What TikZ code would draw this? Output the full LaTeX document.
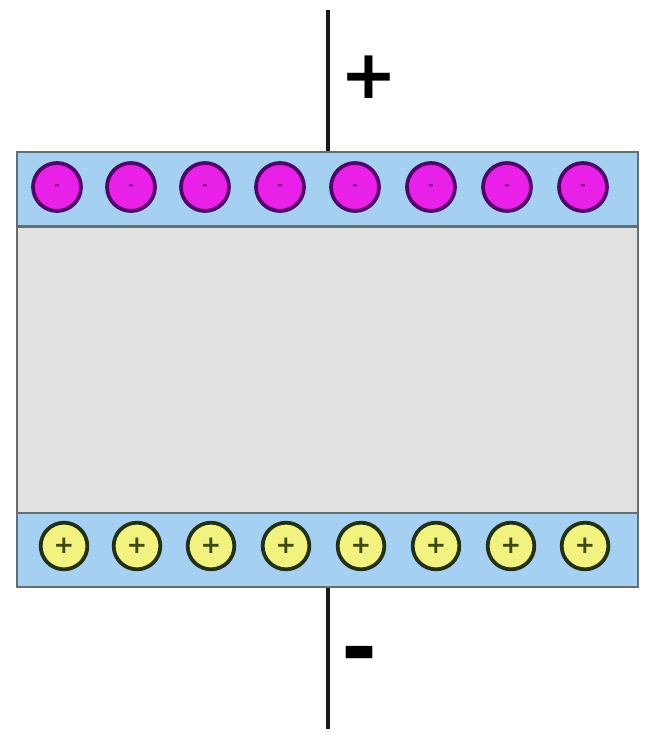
\documentclass[tikz,border=0pt]{standalone}
\usepackage{fontspec}
\newfontfamily\signfont{DejaVu Sans}
\usetikzlibrary{positioning}

\definecolor{plateblue}{RGB}{166,208,242}
\definecolor{gapgray}{RGB}{226,226,226}
\definecolor{framegray}{RGB}{100,112,112}
\definecolor{elecfill}{RGB}{232,32,232}
\definecolor{elecline}{RGB}{80,6,104}
\definecolor{holefill}{RGB}{242,242,128}
\definecolor{holeline}{RGB}{34,48,22}

\begin{document}
\begin{tikzpicture}[
    x=0.03cm, y=-0.03cm,
    plate/.style={rectangle, draw=framegray, line width=1.6pt, fill=plateblue, minimum width=18.63cm, minimum height=2.2cm, inner sep=0pt},
    gap/.style={rectangle, draw=framegray, line width=2.2pt, fill=gapgray, minimum width=18.63cm, minimum height=8.61cm, inner sep=0pt},
    electron/.style={circle, draw=elecline, line width=3.2pt, fill=elecfill, minimum size=1.44cm, inner sep=0pt, text=elecline, font=\signfont\bfseries\fontsize{11}{11}\selectfont},
    hole/.style={circle, draw=holeline, line width=3.2pt, fill=holefill, minimum size=1.4cm, inner sep=0pt, text=holeline!70!olive, font=\signfont\bfseries\fontsize{21}{21}\selectfont},
    wire/.style={line width=3.4pt, black!90},
    sign/.style={font=\signfont\bfseries, inner sep=0pt}
  ]
  \useasboundingbox (0,0) rectangle (645,735);

  % Dielectric and plates
  \node[gap] (gap) at (327.5,370) {};
  \node[plate] (top) at (327.5,189) {};
  \node[plate] (bottom) at (327.5,550) {};

  % Charges on the plates
  \foreach \i/\x in {1/57,2/131,3/205,4/280,5/355,6/431,7/507,8/583}
    \node[electron] (e\i) at (\x,187) {-};
  \foreach \i/\x in {1/64,2/137,3/211,4/286,5/361,6/436,7/511,8/585}
    \node[hole] (h\i) at (\x,546) {+};

  % Leads
  \coordinate (topend) at (328,10);
  \coordinate (botend) at (328,729);
  \draw[wire] (topend) -- (top.north -| topend);
  \draw[wire] (bottom.south -| botend) -- (botend);
  \node[sign, font=\signfont\bfseries\fontsize{58}{58}\selectfont] (plus) at (369,77) {+};
  \node[sign, font=\signfont\bfseries\fontsize{74}{74}\selectfont] (minus) at (359,662) {-};
\end{tikzpicture}
\end{document}
